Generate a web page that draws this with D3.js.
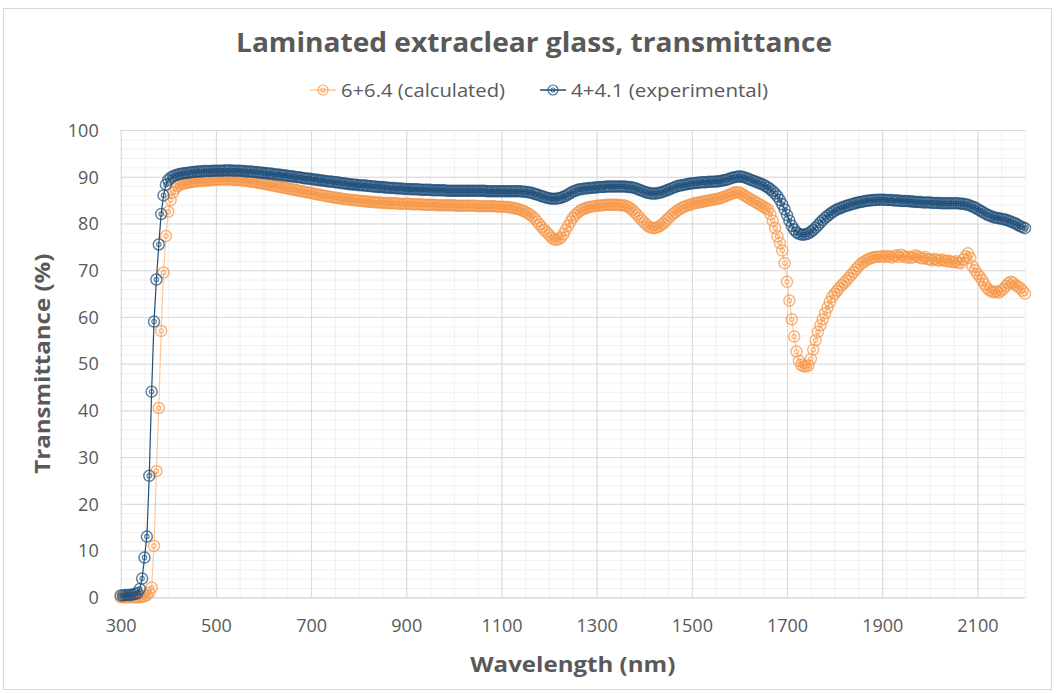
<!DOCTYPE html>
<html>
<head>
<meta charset="utf-8">
<script src="https://cdn.jsdelivr.net/npm/d3@7"></script>
<style>
  body { margin: 0; background: #fff; }
  text { font-family: 'Open Sans', 'Noto Sans', sans-serif; fill: #595959; }
</style>
</head>
<body>
<svg id="chart" width="1056" height="693"></svg>
<script>
// wavelength grid (nm), one value every 5 nm
const wavelengths = d3.range(300, 2201, 5);

// 6+6.4 (calculated)
const calculated = [
  0.0, 0.0, 0.0, 0.0, 0.0, 0.0, 0.0, 0.0, 0.0, 0.1, 0.2, 0.5, 1.0, 2.1, 11, 27, 40.5, 57, 69.5, 77.3,
  82.5, 85.0, 86.6, 87.5, 88.0, 88.3, 88.5, 88.6, 88.7, 88.8, 88.9, 89.0, 89.0, 89.1, 89.1, 89.2, 89.2, 89.2, 89.3, 89.3,
  89.3, 89.4, 89.4, 89.4, 89.4, 89.4, 89.4, 89.4, 89.3, 89.3, 89.3, 89.2, 89.2, 89.1, 89.0, 88.9, 88.9, 88.8, 88.7, 88.6,
  88.5, 88.4, 88.3, 88.2, 88.1, 88.0, 87.9, 87.8, 87.7, 87.6, 87.5, 87.4, 87.3, 87.2, 87.1, 87.0, 86.9, 86.8, 86.7, 86.6,
  86.5, 86.4, 86.3, 86.2, 86.1, 86.0, 85.9, 85.8, 85.7, 85.6, 85.5, 85.5, 85.4, 85.3, 85.2, 85.2, 85.1, 85.0, 85.0, 84.9,
  84.9, 84.8, 84.8, 84.7, 84.7, 84.6, 84.6, 84.5, 84.5, 84.5, 84.4, 84.4, 84.4, 84.3, 84.3, 84.3, 84.3, 84.2, 84.2, 84.2,
  84.2, 84.2, 84.1, 84.1, 84.1, 84.1, 84.1, 84.0, 84.0, 84.0, 84.0, 84.0, 84.0, 83.9, 83.9, 83.9, 83.9, 83.9, 83.9, 83.9,
  83.9, 83.8, 83.8, 83.8, 83.8, 83.8, 83.8, 83.8, 83.8, 83.8, 83.7, 83.7, 83.7, 83.7, 83.7, 83.7, 83.7, 83.7, 83.6, 83.6,
  83.6, 83.6, 83.5, 83.5, 83.4, 83.3, 83.2, 83.1, 82.9, 82.7, 82.5, 82.2, 81.9, 81.5, 81.0, 80.4, 79.8, 79.2, 78.6, 78.1,
  77.6, 77.0, 76.6, 76.5, 76.6, 77.0, 77.7, 78.6, 79.5, 80.4, 81.2, 81.8, 82.3, 82.7, 83.0, 83.2, 83.4, 83.5, 83.6, 83.7,
  83.8, 83.8, 83.9, 83.9, 84.0, 84.0, 84.0, 84.0, 84.0, 84.0, 83.9, 83.9, 83.8, 83.6, 83.3, 82.9, 82.4, 81.9, 81.3, 80.7,
  80.2, 79.7, 79.3, 79.1, 79.0, 79.1, 79.3, 79.6, 80.0, 80.5, 81.0, 81.5, 82.0, 82.4, 82.8, 83.1, 83.4, 83.6, 83.8, 84.0,
  84.1, 84.3, 84.4, 84.5, 84.6, 84.7, 84.8, 84.9, 85.0, 85.1, 85.2, 85.3, 85.4, 85.6, 85.8, 86.0, 86.2, 86.4, 86.6, 86.7,
  86.6, 86.3, 86.0, 85.7, 85.4, 85.1, 84.8, 84.5, 84.2, 83.9, 83.6, 83.3, 83.0, 82.0, 80.6, 79.0, 77.2, 75.8, 74.2, 71.5,
  67.5, 63.5, 59.5, 55.8, 52.6, 50.6, 49.7, 49.4, 49.4, 49.6, 51.0, 53.0, 55.0, 56.8, 58.2, 59.5, 60.8, 62.0, 63.2, 64.3,
  65.0, 65.6, 66.2, 66.8, 67.3, 67.8, 68.4, 69.0, 69.6, 70.2, 70.8, 71.3, 71.7, 72.0, 72.3, 72.5, 72.7, 72.8, 72.9, 72.9,
  73.0, 72.8, 73.1, 72.9, 72.7, 73.0, 73.2, 72.8, 73.3, 73.0, 72.7, 72.9, 72.6, 72.8, 73.2, 72.9, 72.6, 72.5, 72.8, 72.4,
  72.3, 72.1, 72.4, 72.2, 72.0, 72.3, 72.1, 71.9, 72.0, 71.8, 71.7, 71.9, 71.6, 71.5, 72.3, 73.0, 73.6, 72.6, 70.8, 70.0,
  69.2, 68.6, 67.9, 67.0, 66.2, 65.7, 65.4, 65.3, 65.5, 65.2, 65.6, 66.0, 66.6, 67.2, 67.5, 67.3, 66.8, 66.5, 66.2, 65.6,
  65.0
];

// 4+4.1 (experimental)
const experimental = [
  0.4, 0.4, 0.5, 0.5, 0.5, 0.6, 0.7, 0.9, 1.8, 4.0, 8.5, 13, 26, 44, 59, 68, 75.5, 82, 86, 88.3,
  89.3, 89.8, 90.1, 90.3, 90.5, 90.6, 90.7, 90.8, 90.8, 90.9, 91.0, 91.0, 91.1, 91.1, 91.1, 91.2, 91.2, 91.2, 91.2, 91.3,
  91.3, 91.3, 91.3, 91.3, 91.4, 91.3, 91.4, 91.3, 91.3, 91.3, 91.3, 91.2, 91.2, 91.1, 91.1, 91.1, 91.0, 91.0, 90.9, 90.9,
  90.8, 90.8, 90.7, 90.7, 90.6, 90.5, 90.5, 90.4, 90.3, 90.3, 90.2, 90.1, 90.1, 90.0, 89.9, 89.9, 89.8, 89.7, 89.6, 89.6,
  89.5, 89.4, 89.4, 89.3, 89.2, 89.2, 89.1, 89.0, 89.0, 88.9, 88.8, 88.8, 88.7, 88.6, 88.6, 88.5, 88.4, 88.4, 88.3, 88.3,
  88.2, 88.2, 88.1, 88.1, 88.0, 88.0, 87.9, 87.9, 87.8, 87.8, 87.8, 87.7, 87.7, 87.6, 87.6, 87.6, 87.5, 87.5, 87.5, 87.4,
  87.4, 87.4, 87.3, 87.3, 87.3, 87.3, 87.2, 87.2, 87.2, 87.2, 87.2, 87.1, 87.1, 87.1, 87.1, 87.1, 87.1, 87.0, 87.0, 87.0,
  87.0, 87.0, 87.0, 87.0, 87.0, 87.0, 87.0, 87.0, 87.0, 87.0, 87.0, 87.0, 87.0, 87.0, 86.9, 86.9, 86.9, 86.9, 86.9, 86.9,
  86.9, 86.9, 86.9, 86.9, 86.9, 86.9, 86.9, 86.9, 86.9, 86.8, 86.8, 86.7, 86.6, 86.5, 86.3, 86.2, 86.0, 85.8, 85.7, 85.5,
  85.4, 85.3, 85.3, 85.3, 85.4, 85.5, 85.7, 85.9, 86.2, 86.5, 86.8, 87.0, 87.2, 87.3, 87.4, 87.5, 87.5, 87.6, 87.6, 87.7,
  87.7, 87.8, 87.8, 87.8, 87.9, 87.9, 87.9, 87.9, 87.9, 87.9, 87.9, 87.9, 87.9, 87.8, 87.8, 87.7, 87.6, 87.4, 87.2, 87.0,
  86.8, 86.6, 86.5, 86.4, 86.4, 86.4, 86.5, 86.6, 86.8, 87.0, 87.2, 87.4, 87.6, 87.8, 88.0, 88.1, 88.2, 88.3, 88.4, 88.5,
  88.6, 88.6, 88.7, 88.7, 88.8, 88.8, 88.8, 88.9, 88.9, 88.9, 89.0, 89.0, 89.1, 89.2, 89.3, 89.4, 89.6, 89.8, 89.9, 90.0,
  90.1, 90.0, 89.9, 89.7, 89.5, 89.3, 89.1, 88.9, 88.7, 88.5, 88.3, 88.0, 87.7, 87.3, 86.9, 86.4, 85.8, 85.0, 84.1, 83.0,
  81.8, 80.6, 79.5, 78.7, 78.1, 77.8, 77.6, 77.6, 77.7, 77.9, 78.2, 78.6, 79.1, 79.6, 80.2, 80.7, 81.2, 81.6, 82.0, 82.4,
  82.7, 83.0, 83.2, 83.4, 83.6, 83.8, 83.9, 84.1, 84.2, 84.4, 84.5, 84.6, 84.7, 84.8, 84.9, 84.9, 85.0, 85.0, 85.1, 85.1,
  85.1, 85.1, 85.0, 85.0, 85.0, 84.9, 84.9, 84.9, 84.8, 84.8, 84.8, 84.8, 84.7, 84.7, 84.6, 84.6, 84.6, 84.5, 84.5, 84.5,
  84.5, 84.4, 84.4, 84.4, 84.4, 84.3, 84.3, 84.3, 84.3, 84.3, 84.3, 84.3, 84.3, 84.2, 84.2, 84.1, 84.0, 83.8, 83.6, 83.4,
  83.1, 82.8, 82.5, 82.2, 81.9, 81.7, 81.5, 81.3, 81.2, 81.1, 81.0, 80.9, 80.8, 80.6, 80.4, 80.2, 80.0, 79.7, 79.4, 79.2,
  79.0
];

const seriesNames = ['6+6.4 (calculated)', '4+4.1 (experimental)'];
const xTickLabels = [300, 500, 700, 900, 1100, 1300, 1500, 1700, 1900, 2100];
const yTickLabels = [0, 10, 20, 30, 40, 50, 60, 70, 80, 90, 100];

const colors = ['#f79646', '#1f4e79'];
const lineColors = ['#fbc99c', '#1f4e79'];

const W = 1056;
const H = 693;
const margin = { top: 130, right: 31, bottom: 95.7, left: 120.7 };
const width = W - margin.left - margin.right;
const height = H - margin.top - margin.bottom;

const svg = d3.select('#chart');

svg.append('rect')
  .attr('width', W).attr('height', H).attr('fill', '#fff');

// chart frame
svg.append('rect')
  .attr('x', 3.5).attr('y', 8.5)
  .attr('width', 1048).attr('height', 681)
  .attr('fill', 'none').attr('stroke', '#d9d9d9');

const x = d3.scaleLinear().domain([300, 2200]).range([0, width]);
const y = d3.scaleLinear().domain([0, 100]).range([height, 0]);

const chart = svg.append('g')
  .attr('transform', `translate(${ margin.left }, ${ margin.top })`);

// minor grid
chart.append('g')
  .attr('class', 'grid minor')
  .call(d3.axisLeft(y).tickValues(d3.range(0, 101, 2)).tickSize(-width).tickFormat(''))
  .call(g => g.select('.domain').remove())
  .call(g => g.selectAll('line').attr('stroke', '#f0f0f0'));

chart.append('g')
  .attr('class', 'grid minor')
  .attr('transform', `translate(0, ${ height })`)
  .call(d3.axisBottom(x).tickValues(d3.range(300, 2201, 50)).tickSize(-height).tickFormat(''))
  .call(g => g.select('.domain').remove())
  .call(g => g.selectAll('line').attr('stroke', '#f0f0f0'));

// major grid
chart.append('g')
  .attr('class', 'grid major')
  .call(d3.axisLeft(y).tickValues(yTickLabels).tickSize(-width).tickFormat(''))
  .call(g => g.select('.domain').remove())
  .call(g => g.selectAll('line').attr('stroke', '#d9d9d9'));

chart.append('g')
  .attr('class', 'grid major')
  .attr('transform', `translate(0, ${ height })`)
  .call(d3.axisBottom(x).tickValues(xTickLabels).tickSize(-height).tickFormat(''))
  .call(g => g.select('.domain').remove())
  .call(g => g.selectAll('line').attr('stroke', '#d9d9d9'));

// tick labels
const yAxis = chart.append('g')
  .call(d3.axisLeft(y).tickValues(yTickLabels).tickSize(0).tickPadding(22))
  .call(g => g.select('.domain').remove());
yAxis.selectAll('text')
  .style('font-size', '18px')
  .attr('dy', '0.35em');

const xAxis = chart.append('g')
  .attr('transform', `translate(0, ${ height })`)
  .call(d3.axisBottom(x).tickValues(xTickLabels).tickFormat(d3.format('d')).tickSize(0).tickPadding(22))
  .call(g => g.select('.domain').attr('stroke', '#d9d9d9'));
xAxis.selectAll('text')
  .style('font-size', '18px');

// series
const series = [calculated, experimental];
const line = d3.line()
  .x((d, i) => x(wavelengths[i]))
  .y(d => y(d));

series.forEach((values, s) => {
  const g = chart.append('g').attr('class', 'series');
  g.append('path')
    .datum(values)
    .attr('d', line)
    .attr('fill', 'none')
    .attr('stroke', lineColors[s])
    .attr('stroke-width', 1.2);

  const pts = g.selectAll('g.pt')
    .data(values)
    .enter()
    .append('g')
    .attr('class', 'pt')
    .attr('transform', (d, i) => `translate(${ x(wavelengths[i]) }, ${ y(d) })`);
  pts.append('circle')
    .attr('r', 5.5)
    .attr('fill', 'none')
    .attr('stroke', colors[s])
    .attr('stroke-opacity', 0.7)
    .attr('stroke-width', 1.5);
  pts.append('circle')
    .attr('r', 2.2)
    .attr('fill', 'none')
    .attr('stroke', colors[s])
    .attr('stroke-opacity', 0.7)
    .attr('stroke-width', 1.2);
});

// title
svg.append('text')
  .attr('x', 534).attr('y', 52)
  .attr('text-anchor', 'middle')
  .attr('textLength', 596)
  .attr('lengthAdjust', 'spacingAndGlyphs')
  .style('font-size', '26px')
  .style('font-weight', 'bold')
  .text('Laminated extraclear glass, transmittance');

// legend
const legendItems = [
  { name: seriesNames[0], x: 310, w: 164 },
  { name: seriesNames[1], x: 540, w: 197 }
];
legendItems.forEach((item, s) => {
  const g = svg.append('g').attr('transform', `translate(${ item.x }, 90)`);
  g.append('line')
    .attr('x1', 0).attr('x2', 26)
    .attr('stroke', lineColors[s]).attr('stroke-width', 1.5);
  g.append('circle').attr('cx', 13).attr('r', 5)
    .attr('fill', 'none').attr('stroke', colors[s]).attr('stroke-opacity', 0.8).attr('stroke-width', 1.2);
  g.append('circle').attr('cx', 13).attr('r', 2)
    .attr('fill', 'none').attr('stroke', colors[s]).attr('stroke-opacity', 0.8).attr('stroke-width', 1.1);
  g.append('text')
    .attr('x', 31).attr('y', 7)
    .attr('textLength', item.w)
    .attr('lengthAdjust', 'spacingAndGlyphs')
    .style('font-size', '18px')
    .text(item.name);
});

// axis titles
svg.append('text')
  .attr('x', margin.left + width / 2).attr('y', 672)
  .attr('text-anchor', 'middle')
  .attr('textLength', 205)
  .attr('lengthAdjust', 'spacingAndGlyphs')
  .style('font-size', '22px')
  .style('font-weight', 'bold')
  .text('Wavelength (nm)');

svg.append('text')
  .attr('transform', `translate(50, ${ margin.top + height / 2 }) rotate(-90)`)
  .attr('text-anchor', 'middle')
  .attr('textLength', 220)
  .attr('lengthAdjust', 'spacingAndGlyphs')
  .style('font-size', '22px')
  .style('font-weight', 'bold')
  .text('Transmittance (%)');
</script>
</body>
</html>
